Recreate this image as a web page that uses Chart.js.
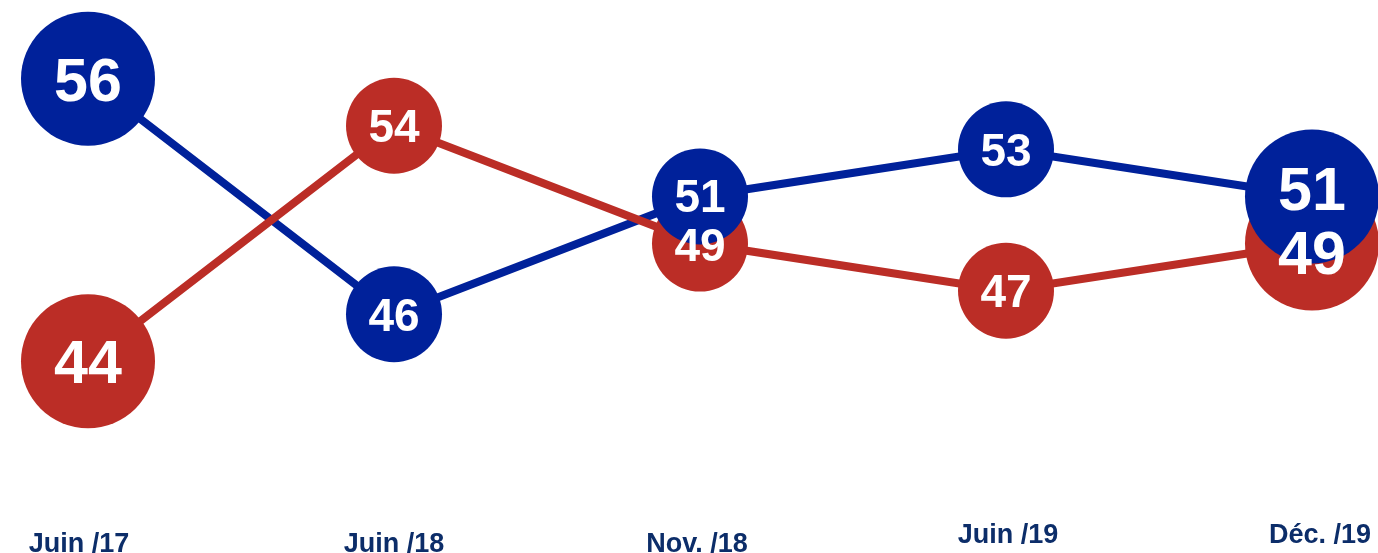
<!DOCTYPE html>
<html>
<head>
<meta charset="utf-8">
<script src="https://cdn.jsdelivr.net/npm/chart.js@4"></script>
<style>
  html, body { margin: 0; padding: 0; background: #fff; }
  #wrap { width: 1378px; height: 553px; }
</style>
</head>
<body>
<div id="wrap"><canvas id="canvas" width="1378" height="553"></canvas></div>
<script>
"use strict";

// periods on the x axis
const periods = ['Juin /17', 'Juin /18', 'Nov. /18', 'Juin /19', 'Déc. /19'];
// blue series
const blueValues = [56, 46, 51, 53, 51];
// red series
const redValues = [44, 54, 49, 47, 49];

const BLUE = '#00219a';
const RED = '#bb2d26';
const LABEL_NAVY = '#0c2d69';

// ends get the big bubbles
function isEnd(i) {
    return i === 0 || i === periods.length - 1;
}

// white numbers inside the bubbles, drawn after all bubbles so none gets hidden
const valueLabels = {
    id: 'valueLabels',
    afterDatasetsDraw(chart) {
        let ctx = chart.ctx;
        let blueMeta = chart.getDatasetMeta(0);
        let redMeta = chart.getDatasetMeta(1);
        ctx.save();
        ctx.fillStyle = '#fff';
        ctx.textAlign = 'center';
        ctx.textBaseline = 'alphabetic';
        periods.forEach((p, i) => {
            let size = isEnd(i) ? 61 : 46;
            let yb = blueMeta.data[i].y;
            let yr = redMeta.data[i].y;
            // when the two bubbles sit close, spread the texts a bit
            let gap = size * 1.05 - Math.abs(yr - yb);
            let push = gap > 0 ? gap / 2 : 0;
            let dir = yr > yb ? 1 : -1;
            ctx.font = 'bold ' + size + 'px "Liberation Sans", Arial, sans-serif';
            ctx.fillText(String(redValues[i]), redMeta.data[i].x, yr + dir * push + size * 0.36);
            ctx.fillText(String(blueValues[i]), blueMeta.data[i].x, yb - dir * push + size * 0.36);
        });
        ctx.restore();
    }
};

// period labels at the bottom (the last two sit a little higher)
const periodLabels = {
    id: 'periodLabels',
    afterDraw(chart, args, opts) {
        let ctx = chart.ctx;
        let xs = chart.scales.x;
        ctx.save();
        ctx.fillStyle = LABEL_NAVY;
        ctx.font = 'bold 27px "Liberation Sans", Arial, sans-serif';
        ctx.textAlign = 'center';
        ctx.textBaseline = 'alphabetic';
        periods.forEach((label, i) => {
            let x = xs.getPixelForValue(i) + opts.shift[i];
            ctx.fillText(label, x, chart.height - 1 - opts.lift[i]);
        });
        ctx.restore();
    }
};

function lineSet(values, color, order) {
    return {
        data: values,
        borderColor: color,
        borderWidth: 8,
        pointRadius: 0,
        fill: false,
        tension: 0,
        clip: false,
        order: order
    };
}

function bubbleSet(values, color, order) {
    return {
        data: values,
        showLine: false,
        backgroundColor: color,
        borderColor: color,
        borderWidth: 0,
        pointRadius: (c) => isEnd(c.dataIndex) ? 67 : 48,
        pointHoverRadius: (c) => isEnd(c.dataIndex) ? 67 : 48,
        clip: false,
        order: order
    };
}

const chart = new Chart(document.getElementById('canvas'), {
    type: 'line',
    data: {
        labels: periods,
        datasets: [
            bubbleSet(blueValues, BLUE, 0),
            bubbleSet(redValues, RED, 1),
            lineSet(redValues, RED, 2),
            lineSet(blueValues, BLUE, 3)
        ]
    },
    options: {
        responsive: false,
        animation: false,
        events: [],
        layout: {
            autoPadding: false,
            padding: { left: 88, right: 66, top: 8, bottom: 121 }
        },
        plugins: {
            legend: { display: false },
            tooltip: { enabled: false },
            periodLabels: { lift: [0, 0, 0, 9, 9], shift: [-9, 0, -3, 2, 8] }
        },
        scales: {
            x: { display: false, offset: false },
            y: { display: false, min: 41, max: 59 }
        }
    },
    plugins: [valueLabels, periodLabels]
});
</script>
</body>
</html>
